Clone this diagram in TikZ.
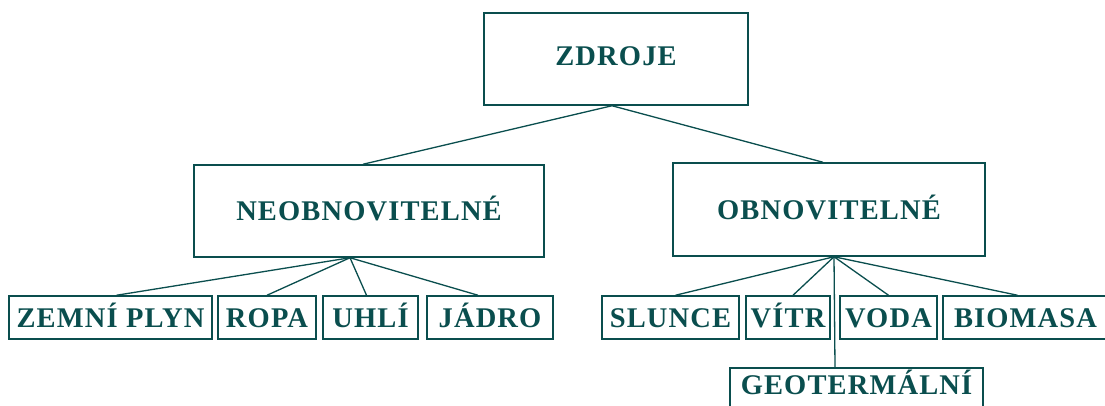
\documentclass[tikz,border=0pt]{standalone}
\usepackage{fontspec}
\setmainfont{Liberation Serif}[LetterSpace=4]
\definecolor{teal1}{RGB}{10,78,78}
\begin{document}
\begin{tikzpicture}[x=1pt,y=-1pt,
  box/.style={draw=teal1,line width=1.5pt,rectangle,inner sep=0pt,text=teal1,
     font=\fontsize{28.5}{30}\selectfont\bfseries,text height=19pt,text depth=0pt},
  link/.style={draw=teal1,line width=1.3pt}]
\useasboundingbox (0,0) rectangle (1105,406);
\fill[white] (0,0) rectangle (1105,406);
\node[box,minimum width=264pt,minimum height=92pt,text depth=6pt] (zdroje) at (616,59) {ZDROJE};
\node[box,minimum width=350pt,minimum height=92pt] (neob) at (369,211) {NEOBNOVITELNÉ};
\node[box,minimum width=312pt,minimum height=93pt] (obn) at (829,209.5) {OBNOVITELNÉ};
\node[box,minimum width=203pt,minimum height=43pt] (zemni) at (110.5,317.5) {ZEMNÍ PLYN};
\node[box,minimum width=98pt,minimum height=43pt] (ropa) at (267,317.5) {ROPA};
\node[box,minimum width=95pt,minimum height=43pt] (uhli) at (370.5,317.5) {UHLÍ};
\node[box,minimum width=126pt,minimum height=43pt] (jadro) at (490,317.5) {JÁDRO};
\node[box,minimum width=137pt,minimum height=43pt] (slunce) at (670.5,317.5) {SLUNCE};
\node[box,minimum width=84pt,minimum height=43pt] (vitr) at (788,317.5) {VÍTR};
\node[box,minimum width=97pt,minimum height=43pt] (voda) at (888.5,317.5) {VODA};
\node[box,minimum width=165pt,minimum height=43pt] (bio) at (1025.5,317.5) {BIOMASA};
\node[box,minimum width=253pt,minimum height=50pt,text depth=17pt] (geo) at (856.5,393) {GEOTERMÁLNÍ};
\draw[link] ([xshift=-4pt]zdroje.south) -- ([xshift=-6pt]neob.north);
\draw[link] ([xshift=-4pt]zdroje.south) -- ([xshift=-6pt]obn.north);
\draw[link] ([xshift=-19pt]neob.south) -- ([xshift=6pt]zemni.north);
\draw[link] ([xshift=-19pt]neob.south) -- (ropa.north);
\draw[link] ([xshift=-19pt]neob.south) -- ([xshift=-4pt]uhli.north);
\draw[link] ([xshift=-19pt]neob.south) -- ([xshift=-12pt]jadro.north);
\draw[link] ([xshift=5pt]obn.south) -- ([xshift=5pt]slunce.north);
\draw[link] ([xshift=5pt]obn.south) -- ([xshift=5pt]vitr.north);
\draw[link] ([xshift=5pt]obn.south) -- (voda.north);
\draw[link] ([xshift=5pt]obn.south) -- ([xshift=-8pt]bio.north);
\draw[link] ([xshift=5pt]obn.south) -- ([xshift=-21.5pt]geo.north);
\end{tikzpicture}
\end{document}
